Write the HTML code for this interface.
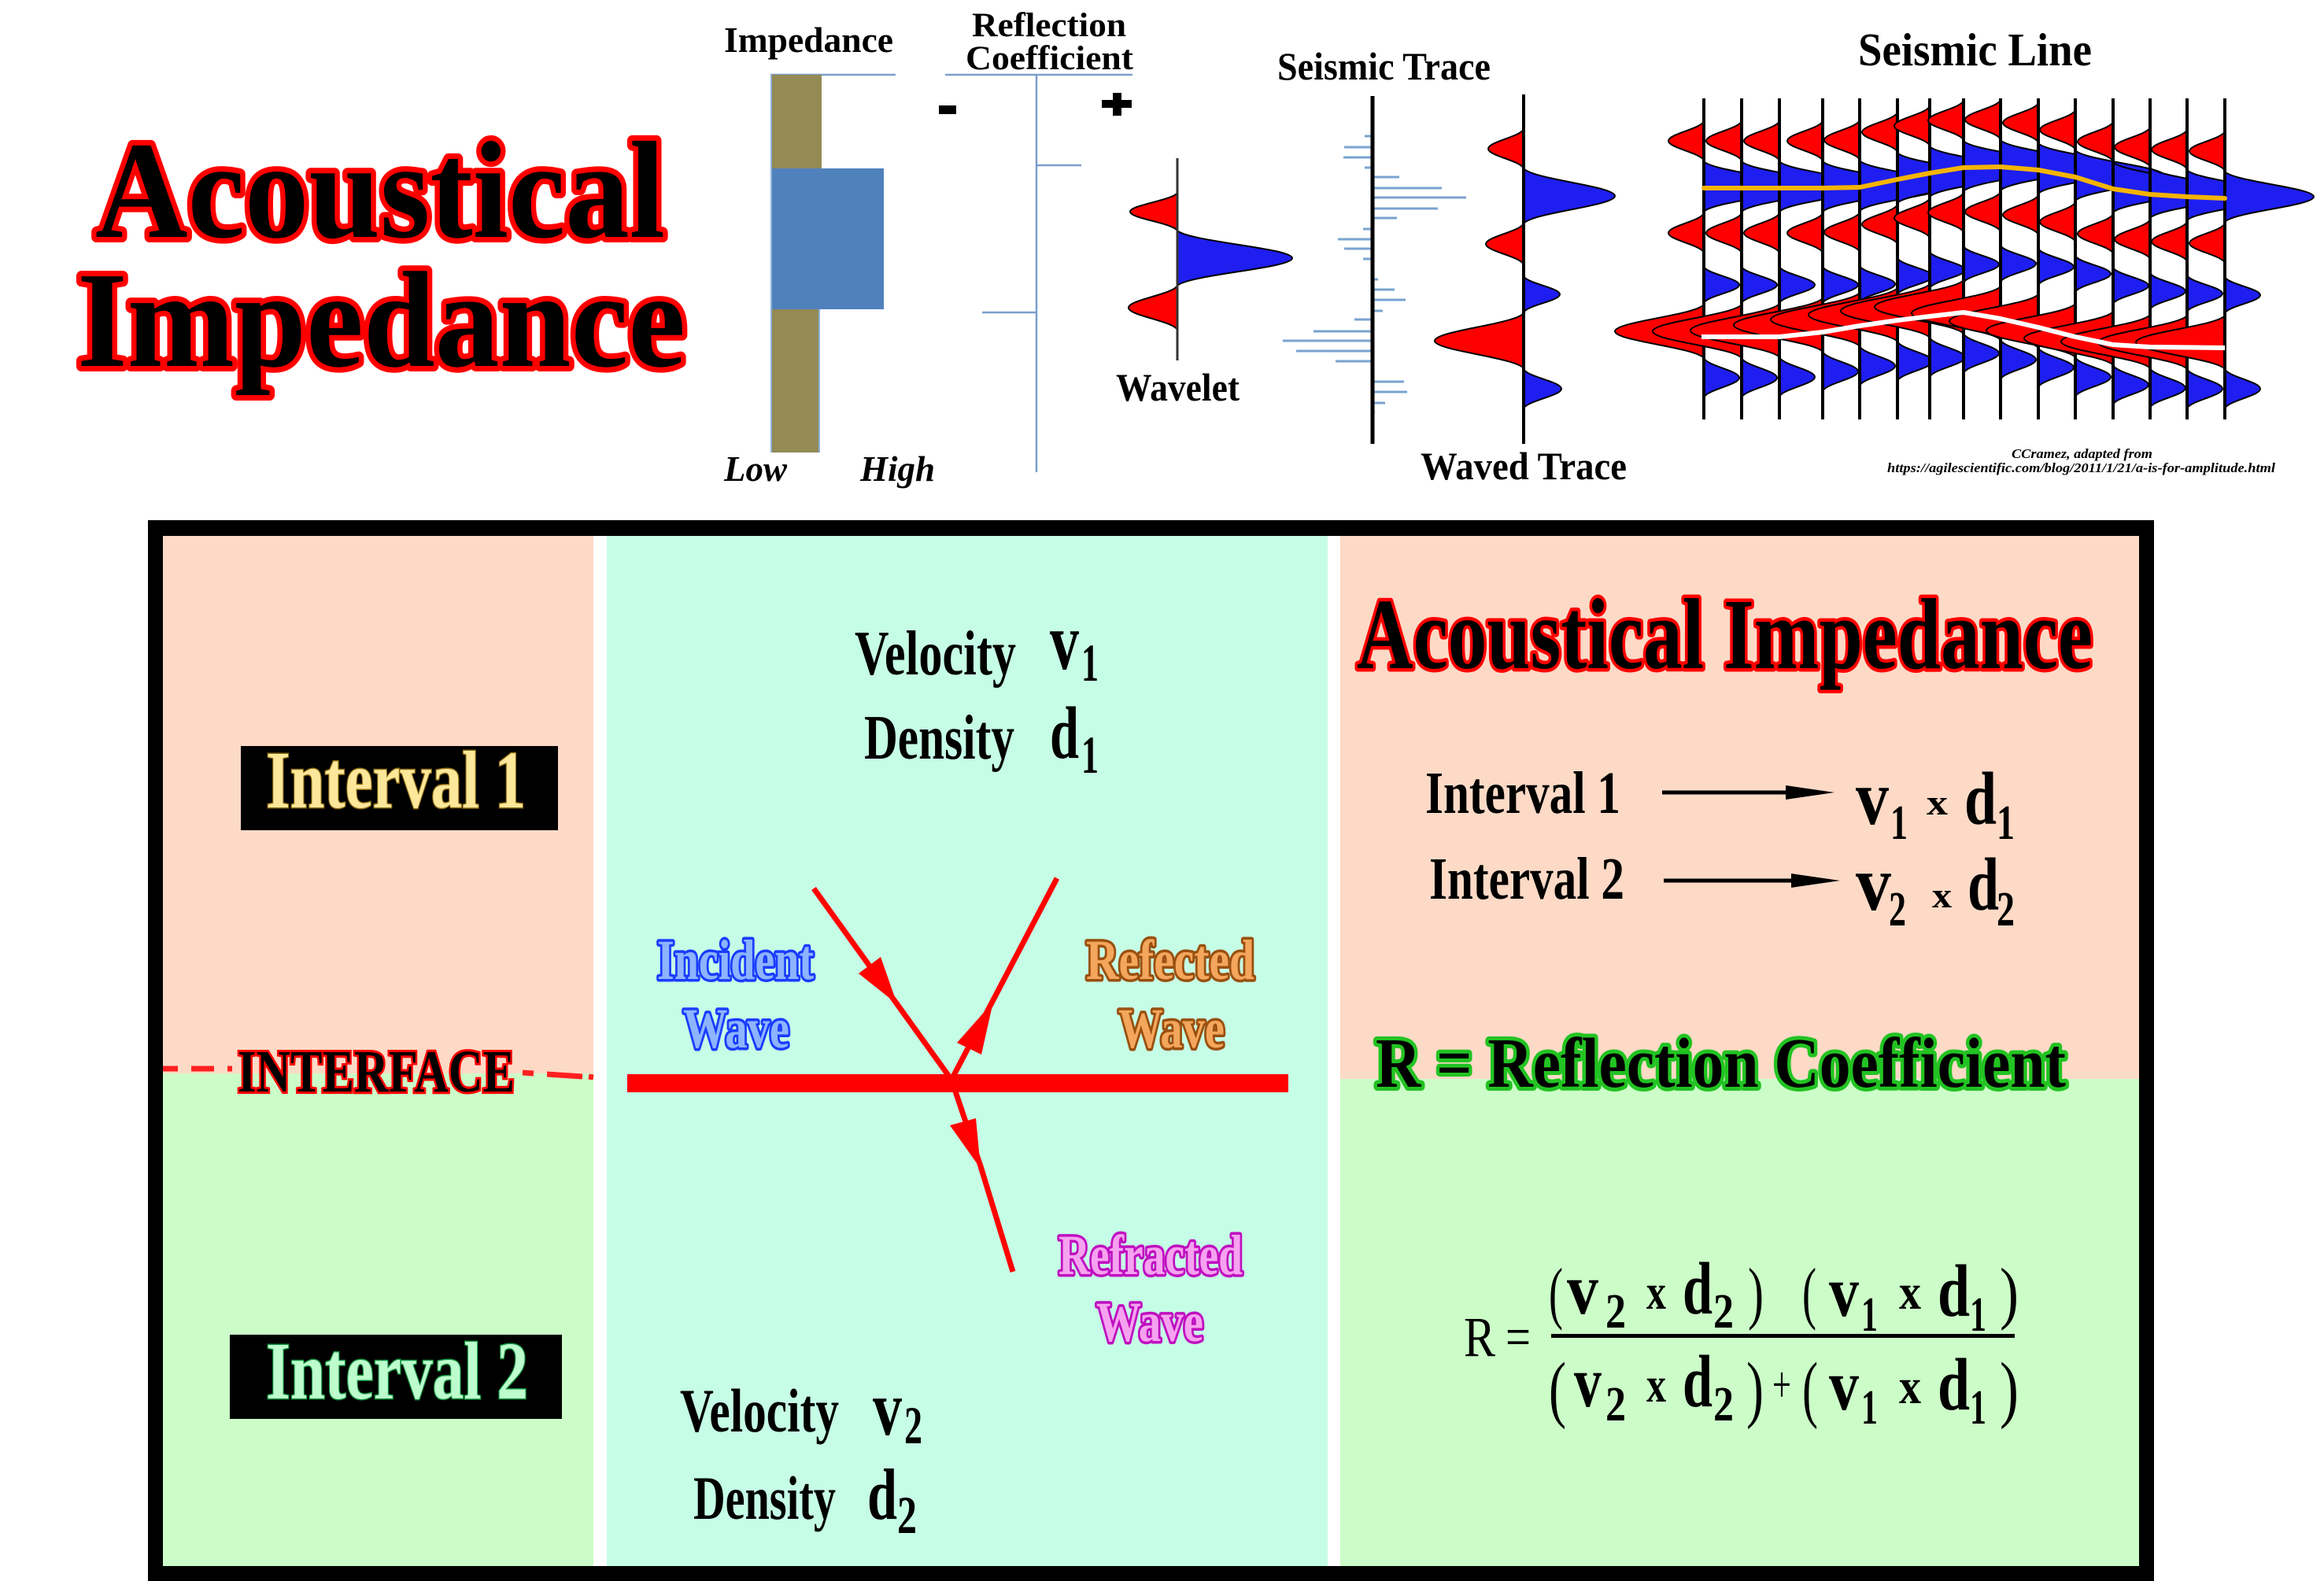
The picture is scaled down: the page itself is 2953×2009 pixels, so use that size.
<!DOCTYPE html>
<html><head><meta charset="utf-8"><style>
html,body{margin:0;padding:0;background:#fff;}
svg{display:block;}
text{font-family:"Liberation Serif",serif;font-weight:bold;}
.r{fill:#ff0000}.b{fill:#1e1ef0}
</style></head><body>
<svg xmlns="http://www.w3.org/2000/svg" xmlns:xlink="http://www.w3.org/1999/xlink" width="2953" height="2009" viewBox="0 0 2953 2009">
<defs>
<path id="lb" d="M0,-1 C0.1,-0.6 1,-0.36 1,0 C1,0.36 0.1,0.6 0,1 Z" vector-effect="non-scaling-stroke"/>
</defs>
<rect width="2953" height="2009" fill="#fff"/>

<!-- Top-left title -->
<g fill="#000" stroke="#ff0000" stroke-width="14" paint-order="stroke" stroke-linejoin="round">
<text x="121" y="301" font-size="176" textLength="724" lengthAdjust="spacingAndGlyphs">Acoustical</text>
<text x="98" y="465" font-size="174" textLength="773" lengthAdjust="spacingAndGlyphs">Impedance</text>
</g>

<!-- Impedance column -->
<text x="920" y="66" font-size="46" textLength="215" lengthAdjust="spacingAndGlyphs">Impedance</text>
<line x1="979" y1="95" x2="1138" y2="95" stroke="#7b9fcc" stroke-width="2.5"/>
<rect x="979" y="95" width="65" height="119" fill="#948a54"/>
<rect x="979" y="393" width="63" height="182" fill="#948a54"/>
<rect x="979" y="214" width="144" height="179" fill="#4f81bd"/>
<line x1="980" y1="95" x2="980" y2="575" stroke="#8fb0d8" stroke-width="2"/>
<line x1="1041" y1="393" x2="1041" y2="575" stroke="#8fb0d8" stroke-width="2"/>
<text x="920" y="611" font-size="46" font-style="italic" textLength="80" lengthAdjust="spacingAndGlyphs">Low</text>
<text x="1093" y="611" font-size="46" font-style="italic" textLength="95" lengthAdjust="spacingAndGlyphs">High</text>

<!-- Reflection coefficient -->
<text x="1235" y="46" font-size="43" textLength="196" lengthAdjust="spacingAndGlyphs">Reflection</text>
<text x="1227" y="88" font-size="43" textLength="213" lengthAdjust="spacingAndGlyphs">Coefficient</text>
<g stroke="#7b9fcc" stroke-width="2.5">
<line x1="1201" y1="95" x2="1439" y2="95"/>
<line x1="1317" y1="95" x2="1317" y2="600"/>
<line x1="1317" y1="210" x2="1374" y2="210"/>
<line x1="1248" y1="397" x2="1317" y2="397"/>
</g>
<rect x="1193" y="134" width="22" height="11" fill="#000"/>
<rect x="1400" y="127" width="38" height="10" fill="#000"/>
<rect x="1414" y="118" width="11" height="29" fill="#000"/>

<!-- Wavelet -->
<g stroke="#000" stroke-width="2">
<use href="#lb" class="r" transform="translate(1496,269) scale(-60,24)"/>
<use href="#lb" class="b" transform="translate(1496,328) scale(146,35)"/>
<use href="#lb" class="r" transform="translate(1496,391) scale(-62,28)"/>
</g>
<line x1="1496" y1="201" x2="1496" y2="458" stroke="#333" stroke-width="3"/>
<text x="1418" y="509" font-size="50" textLength="157" lengthAdjust="spacingAndGlyphs">Wavelet</text>

<!-- Seismic trace (reflectivity) -->
<text x="1623" y="101" font-size="50" textLength="271" lengthAdjust="spacingAndGlyphs">Seismic Trace</text>
<g stroke="#7aa3d0" stroke-width="3">
<line x1="1734" y1="173" x2="1744" y2="173"/>
<line x1="1708" y1="187" x2="1744" y2="187"/>
<line x1="1707" y1="200" x2="1744" y2="200"/>
<line x1="1734" y1="213" x2="1744" y2="213"/>
<line x1="1744" y1="225" x2="1778" y2="225"/>
<line x1="1744" y1="239" x2="1832" y2="239"/>
<line x1="1744" y1="251" x2="1863" y2="251"/>
<line x1="1744" y1="265" x2="1827" y2="265"/>
<line x1="1744" y1="277" x2="1775" y2="277"/>
<line x1="1732" y1="291" x2="1744" y2="291"/>
<line x1="1700" y1="304" x2="1744" y2="304"/>
<line x1="1708" y1="316" x2="1744" y2="316"/>
<line x1="1732" y1="329" x2="1744" y2="329"/>
<line x1="1744" y1="355" x2="1751" y2="355"/>
<line x1="1744" y1="368" x2="1772" y2="368"/>
<line x1="1744" y1="381" x2="1786" y2="381"/>
<line x1="1744" y1="395" x2="1757" y2="395"/>
<line x1="1721" y1="406" x2="1744" y2="406"/>
<line x1="1669" y1="421" x2="1744" y2="421"/>
<line x1="1630" y1="433" x2="1744" y2="433"/>
<line x1="1647" y1="446" x2="1744" y2="446"/>
<line x1="1697" y1="459" x2="1744" y2="459"/>
<line x1="1744" y1="485" x2="1784" y2="485"/>
<line x1="1744" y1="498" x2="1788" y2="498"/>
<line x1="1744" y1="512" x2="1760" y2="512"/>
<line x1="1744" y1="524" x2="1747" y2="524"/>
</g>
<line x1="1744" y1="122" x2="1744" y2="564" stroke="#000" stroke-width="5"/>

<!-- Waved trace -->
<g stroke="#000" stroke-width="2">
<use href="#lb" class="r" transform="translate(1936,189) scale(-45,25)"/>
<use href="#lb" class="b" transform="translate(1936,249) scale(116,35)"/>
<use href="#lb" class="r" transform="translate(1936,310) scale(-48,26)"/>
<use href="#lb" class="b" transform="translate(1936,374) scale(46,23)"/>
<use href="#lb" class="r" transform="translate(1936,433) scale(-113,35)"/>
<use href="#lb" class="b" transform="translate(1936,494) scale(48,25)"/>
</g>
<line x1="1936" y1="120" x2="1936" y2="564" stroke="#000" stroke-width="4"/>
<text x="1805" y="609" font-size="50" textLength="262" lengthAdjust="spacingAndGlyphs">Waved Trace</text>

<!-- Seismic line -->
<text x="2361" y="83" font-size="59" textLength="297" lengthAdjust="spacingAndGlyphs">Seismic Line</text>
<g stroke="#000" stroke-width="2">
<g><use href="#lb" class="r" transform="translate(2165,179) scale(-45,25)"/><use href="#lb" class="b" transform="translate(2165,237) scale(113,32)"/><use href="#lb" class="r" transform="translate(2165,296) scale(-45,25)"/><use href="#lb" class="b" transform="translate(2165,362) scale(45,23)"/><use href="#lb" class="r" transform="translate(2165,421) scale(-113,34)"/><use href="#lb" class="b" transform="translate(2165,480) scale(45,25)"/><line x1="2165" y1="125" x2="2165" y2="533" stroke-width="4"/></g>
<g><use href="#lb" class="r" transform="translate(2213,179) scale(-45,25)"/><use href="#lb" class="b" transform="translate(2213,237) scale(113,32)"/><use href="#lb" class="r" transform="translate(2213,296) scale(-45,25)"/><use href="#lb" class="b" transform="translate(2213,362) scale(45,23)"/><use href="#lb" class="r" transform="translate(2213,421) scale(-113,34)"/><use href="#lb" class="b" transform="translate(2213,480) scale(45,25)"/><line x1="2213" y1="125" x2="2213" y2="533" stroke-width="4"/></g>
<g><use href="#lb" class="r" transform="translate(2261,179) scale(-45,25)"/><use href="#lb" class="b" transform="translate(2261,237) scale(113,32)"/><use href="#lb" class="r" transform="translate(2261,296) scale(-45,25)"/><use href="#lb" class="b" transform="translate(2261,362) scale(45,23)"/><use href="#lb" class="r" transform="translate(2261,420) scale(-113,34)"/><use href="#lb" class="b" transform="translate(2261,479) scale(45,25)"/><line x1="2261" y1="125" x2="2261" y2="533" stroke-width="4"/></g>
<g><use href="#lb" class="r" transform="translate(2316,179) scale(-45,25)"/><use href="#lb" class="b" transform="translate(2316,237) scale(113,32)"/><use href="#lb" class="r" transform="translate(2316,296) scale(-45,25)"/><use href="#lb" class="b" transform="translate(2316,362) scale(45,23)"/><use href="#lb" class="r" transform="translate(2316,413) scale(-113,34)"/><use href="#lb" class="b" transform="translate(2316,472) scale(45,25)"/><line x1="2316" y1="125" x2="2316" y2="533" stroke-width="4"/></g>
<g><use href="#lb" class="r" transform="translate(2363,178) scale(-45,25)"/><use href="#lb" class="b" transform="translate(2363,236) scale(113,32)"/><use href="#lb" class="r" transform="translate(2363,295) scale(-45,25)"/><use href="#lb" class="b" transform="translate(2363,361) scale(45,23)"/><use href="#lb" class="r" transform="translate(2363,406) scale(-113,34)"/><use href="#lb" class="b" transform="translate(2363,465) scale(45,25)"/><line x1="2363" y1="125" x2="2363" y2="533" stroke-width="4"/></g>
<g><use href="#lb" class="r" transform="translate(2411,168) scale(-45,25)"/><use href="#lb" class="b" transform="translate(2411,226) scale(113,32)"/><use href="#lb" class="r" transform="translate(2411,285) scale(-45,25)"/><use href="#lb" class="b" transform="translate(2411,351) scale(45,23)"/><use href="#lb" class="r" transform="translate(2411,400) scale(-113,34)"/><use href="#lb" class="b" transform="translate(2411,459) scale(45,25)"/><line x1="2411" y1="125" x2="2411" y2="533" stroke-width="4"/></g>
<g><use href="#lb" class="r" transform="translate(2452,160) scale(-45,25)"/><use href="#lb" class="b" transform="translate(2452,218) scale(113,32)"/><use href="#lb" class="r" transform="translate(2452,277) scale(-45,25)"/><use href="#lb" class="b" transform="translate(2452,343) scale(45,23)"/><use href="#lb" class="r" transform="translate(2452,395) scale(-113,34)"/><use href="#lb" class="b" transform="translate(2452,454) scale(45,25)"/><line x1="2452" y1="125" x2="2452" y2="533" stroke-width="4"/></g>
<g><use href="#lb" class="r" transform="translate(2495,153) scale(-45,25)"/><use href="#lb" class="b" transform="translate(2495,211) scale(113,32)"/><use href="#lb" class="r" transform="translate(2495,270) scale(-45,25)"/><use href="#lb" class="b" transform="translate(2495,336) scale(45,23)"/><use href="#lb" class="r" transform="translate(2495,390) scale(-113,34)"/><use href="#lb" class="b" transform="translate(2495,449) scale(45,25)"/><line x1="2495" y1="125" x2="2495" y2="533" stroke-width="4"/></g>
<g><use href="#lb" class="r" transform="translate(2542,152) scale(-45,25)"/><use href="#lb" class="b" transform="translate(2542,210) scale(113,32)"/><use href="#lb" class="r" transform="translate(2542,269) scale(-45,25)"/><use href="#lb" class="b" transform="translate(2542,335) scale(45,23)"/><use href="#lb" class="r" transform="translate(2542,398) scale(-113,34)"/><use href="#lb" class="b" transform="translate(2542,457) scale(45,25)"/><line x1="2542" y1="125" x2="2542" y2="533" stroke-width="4"/></g>
<g><use href="#lb" class="r" transform="translate(2590,156) scale(-45,25)"/><use href="#lb" class="b" transform="translate(2590,214) scale(113,32)"/><use href="#lb" class="r" transform="translate(2590,273) scale(-45,25)"/><use href="#lb" class="b" transform="translate(2590,339) scale(45,23)"/><use href="#lb" class="r" transform="translate(2590,408) scale(-113,34)"/><use href="#lb" class="b" transform="translate(2590,467) scale(45,25)"/><line x1="2590" y1="125" x2="2590" y2="533" stroke-width="4"/></g>
<g><use href="#lb" class="r" transform="translate(2637,165) scale(-45,25)"/><use href="#lb" class="b" transform="translate(2637,223) scale(113,32)"/><use href="#lb" class="r" transform="translate(2637,282) scale(-45,25)"/><use href="#lb" class="b" transform="translate(2637,348) scale(45,23)"/><use href="#lb" class="r" transform="translate(2637,420) scale(-113,34)"/><use href="#lb" class="b" transform="translate(2637,479) scale(45,25)"/><line x1="2637" y1="125" x2="2637" y2="533" stroke-width="4"/></g>
<g><use href="#lb" class="r" transform="translate(2685,180) scale(-45,25)"/><use href="#lb" class="b" transform="translate(2685,238) scale(113,32)"/><use href="#lb" class="r" transform="translate(2685,297) scale(-45,25)"/><use href="#lb" class="b" transform="translate(2685,363) scale(45,23)"/><use href="#lb" class="r" transform="translate(2685,430) scale(-113,34)"/><use href="#lb" class="b" transform="translate(2685,489) scale(45,25)"/><line x1="2685" y1="125" x2="2685" y2="533" stroke-width="4"/></g>
<g><use href="#lb" class="r" transform="translate(2732,187) scale(-45,25)"/><use href="#lb" class="b" transform="translate(2732,245) scale(113,32)"/><use href="#lb" class="r" transform="translate(2732,304) scale(-45,25)"/><use href="#lb" class="b" transform="translate(2732,370) scale(45,23)"/><use href="#lb" class="r" transform="translate(2732,434) scale(-113,34)"/><use href="#lb" class="b" transform="translate(2732,493) scale(45,25)"/><line x1="2732" y1="125" x2="2732" y2="533" stroke-width="4"/></g>
<g><use href="#lb" class="r" transform="translate(2779,190) scale(-45,25)"/><use href="#lb" class="b" transform="translate(2779,248) scale(113,32)"/><use href="#lb" class="r" transform="translate(2779,307) scale(-45,25)"/><use href="#lb" class="b" transform="translate(2779,373) scale(45,23)"/><use href="#lb" class="r" transform="translate(2779,435) scale(-113,34)"/><use href="#lb" class="b" transform="translate(2779,494) scale(45,25)"/><line x1="2779" y1="125" x2="2779" y2="533" stroke-width="4"/></g>
<g><use href="#lb" class="r" transform="translate(2827,192) scale(-45,25)"/><use href="#lb" class="b" transform="translate(2827,250) scale(113,32)"/><use href="#lb" class="r" transform="translate(2827,309) scale(-45,25)"/><use href="#lb" class="b" transform="translate(2827,375) scale(45,23)"/><use href="#lb" class="r" transform="translate(2827,435) scale(-113,34)"/><use href="#lb" class="b" transform="translate(2827,494) scale(45,25)"/><line x1="2827" y1="125" x2="2827" y2="533" stroke-width="4"/></g>
</g>
<polyline points="2165,239 2316,239 2363,238 2411,228 2452,220 2495,213 2542,212 2590,216 2637,225 2685,240 2732,247 2779,250 2827,252" fill="none" stroke="#f5b400" stroke-width="6" stroke-linejoin="round" stroke-linecap="round"/>
<polyline points="2162,428 2261,428 2316,422 2363,414 2411,407 2452,402 2495,397 2542,405 2590,416 2637,428 2685,438 2732,441 2827,442" fill="none" stroke="#ffffff" stroke-width="6" stroke-linejoin="round"/>
<text x="2556" y="582" font-size="17" font-style="italic" textLength="179" lengthAdjust="spacingAndGlyphs">CCramez, adapted from</text>
<text x="2398" y="600" font-size="17" font-style="italic" textLength="493" lengthAdjust="spacingAndGlyphs">https://agilescientific.com/blog/2011/1/21/a-is-for-amplitude.html</text>

<!-- Bottom frame -->
<rect x="188" y="661" width="2549" height="1348" fill="#000"/>
<rect x="207" y="681" width="547" height="683" fill="#fddac6"/>
<rect x="207" y="1364" width="547" height="626" fill="#ccfdc8"/>
<rect x="754" y="681" width="17" height="1309" fill="#fff"/>
<rect x="771" y="681" width="916" height="1309" fill="#c6fde6"/>
<rect x="1687" y="681" width="16" height="1309" fill="#fff"/>
<rect x="1703" y="681" width="1015" height="690" fill="#fddac6"/>
<rect x="1703" y="1371" width="1015" height="619" fill="#ccfdc8"/>

<!-- Left panel -->
<rect x="306" y="948" width="403" height="107" fill="#000"/>
<text x="338" y="1026" font-size="104" textLength="330" lengthAdjust="spacingAndGlyphs" fill="#fde79a" stroke="#8a6a10" stroke-width="3" paint-order="stroke">Interval 1</text>
<rect x="292" y="1696" width="422" height="107" fill="#000"/>
<text x="338" y="1777" font-size="104" textLength="333" lengthAdjust="spacingAndGlyphs" fill="#bdfccc" stroke="#109040" stroke-width="3" paint-order="stroke">Interval 2</text>
<g stroke="#ff2020" stroke-width="7">
<line x1="207" y1="1358" x2="226" y2="1358"/>
<line x1="243" y1="1358" x2="272" y2="1358"/>
<line x1="289" y1="1358" x2="295" y2="1358"/>
<line x1="664" y1="1363" x2="678" y2="1364"/>
<line x1="695" y1="1365" x2="740" y2="1368"/>
<line x1="748" y1="1368" x2="754" y2="1369"/>
</g>
<text x="302" y="1387" font-size="76" textLength="352" lengthAdjust="spacingAndGlyphs" fill="#000" stroke="#ff0000" stroke-width="6" paint-order="stroke">INTERFACE</text>

<!-- Middle panel -->
<text x="1086" y="857" font-size="80" textLength="205" lengthAdjust="spacingAndGlyphs">Velocity</text>
<text x="1334" y="850" font-size="104" textLength="37" lengthAdjust="spacingAndGlyphs">v</text>
<text x="1374" y="865" font-size="68" textLength="22" lengthAdjust="spacingAndGlyphs">1</text>
<text x="1098" y="964" font-size="80" textLength="191" lengthAdjust="spacingAndGlyphs">Density</text>
<text x="1334" y="963" font-size="94" textLength="37" lengthAdjust="spacingAndGlyphs">d</text>
<text x="1374" y="982" font-size="68" textLength="22" lengthAdjust="spacingAndGlyphs">1</text>

<text x="864" y="1819" font-size="78" textLength="202" lengthAdjust="spacingAndGlyphs">Velocity</text>
<text x="1109" y="1823" font-size="100" textLength="37" lengthAdjust="spacingAndGlyphs">v</text>
<text x="1149" y="1834" font-size="68" textLength="23" lengthAdjust="spacingAndGlyphs">2</text>
<text x="881" y="1930" font-size="78" textLength="181" lengthAdjust="spacingAndGlyphs">Density</text>
<text x="1102" y="1930" font-size="92" textLength="38" lengthAdjust="spacingAndGlyphs">d</text>
<text x="1140" y="1948" font-size="68" textLength="25" lengthAdjust="spacingAndGlyphs">2</text>

<rect x="797" y="1365" width="840" height="23" fill="#ff0000"/>
<g stroke="#ff0000" stroke-width="7" fill="none" stroke-linecap="butt">
<line x1="1034" y1="1129" x2="1209" y2="1372"/>
<line x1="1209" y1="1372" x2="1343" y2="1116"/>
<polyline points="1209,1372 1246,1482 1287,1616"/>
</g>
<g fill="#ff0000">
<polygon points="1140,1276 1091,1237 1119,1216"/>
<polygon points="1262,1273 1247,1340 1216,1325"/>
<polygon points="1246,1485 1207,1430 1240,1421"/>
</g>
<g stroke-width="7" paint-order="stroke" stroke-linejoin="round">
<text x="835" y="1244" font-size="72" textLength="199" lengthAdjust="spacingAndGlyphs" fill="#8db4ff" stroke="#1a3cff">Incident</text>
<text x="868" y="1331" font-size="72" textLength="135" lengthAdjust="spacingAndGlyphs" fill="#8db4ff" stroke="#1a3cff">Wave</text>
<text x="1380" y="1244" font-size="72" textLength="214" lengthAdjust="spacingAndGlyphs" fill="#f4a65c" stroke="#9a5010">Refected</text>
<text x="1421" y="1331" font-size="72" textLength="135" lengthAdjust="spacingAndGlyphs" fill="#f4a65c" stroke="#9a5010">Wave</text>
<text x="1345" y="1619" font-size="72" textLength="234" lengthAdjust="spacingAndGlyphs" fill="#f6a2f0" stroke="#c010c0">Refracted</text>
<text x="1393" y="1704" font-size="72" textLength="136" lengthAdjust="spacingAndGlyphs" fill="#f6a2f0" stroke="#c010c0">Wave</text>
</g>

<!-- Right panel -->
<text x="1724" y="849" font-size="128" textLength="935" lengthAdjust="spacingAndGlyphs" fill="#000" stroke="#ff0000" stroke-width="9" paint-order="stroke" stroke-linejoin="round">Acoustical Impedance</text>

<text x="1811" y="1033" font-size="76" textLength="248" lengthAdjust="spacingAndGlyphs">Interval 1</text>
<text x="1816" y="1142" font-size="76" textLength="248" lengthAdjust="spacingAndGlyphs">Interval 2</text>
<line x1="2112" y1="1007" x2="2275" y2="1007" stroke="#000" stroke-width="5"/>
<polygon points="2269,998 2331,1007 2269,1016" fill="#000"/>
<line x1="2114" y1="1119" x2="2280" y2="1119" stroke="#000" stroke-width="5"/>
<polygon points="2276,1110 2338,1119 2276,1128" fill="#000"/>

<text x="2358" y="1047" font-size="100" textLength="42" lengthAdjust="spacingAndGlyphs">v</text>
<text x="2402" y="1066" font-size="62" textLength="22" lengthAdjust="spacingAndGlyphs">1</text>
<text x="2448" y="1035" font-size="46" textLength="27" lengthAdjust="spacingAndGlyphs">x</text>
<text x="2496" y="1047" font-size="95" textLength="41" lengthAdjust="spacingAndGlyphs">d</text>
<text x="2537" y="1066" font-size="62" textLength="23" lengthAdjust="spacingAndGlyphs">1</text>

<text x="2358" y="1156" font-size="100" textLength="45" lengthAdjust="spacingAndGlyphs">v</text>
<text x="2400" y="1176" font-size="62" textLength="22" lengthAdjust="spacingAndGlyphs">2</text>
<text x="2455" y="1153" font-size="46" textLength="25" lengthAdjust="spacingAndGlyphs">x</text>
<text x="2500" y="1156" font-size="95" textLength="40" lengthAdjust="spacingAndGlyphs">d</text>
<text x="2537" y="1176" font-size="62" textLength="23" lengthAdjust="spacingAndGlyphs">2</text>

<text x="1748" y="1381" font-size="90" textLength="877" lengthAdjust="spacingAndGlyphs" fill="#000" stroke="#22c322" stroke-width="10" paint-order="stroke" stroke-linejoin="round">R = Reflection Coefficient</text>

<!-- Formula -->
<g font-weight="normal">
<text x="1860" y="1723" font-size="72" textLength="40" lengthAdjust="spacingAndGlyphs" style="font-weight:normal">R</text>
<text x="1913" y="1723" font-size="72" textLength="32" lengthAdjust="spacingAndGlyphs" style="font-weight:normal">=</text>
</g>
<rect x="1971" y="1695" width="589" height="5" fill="#000"/>
<g>
<text x="1968" y="1672" font-size="88" textLength="18" lengthAdjust="spacingAndGlyphs" style="font-weight:normal">(</text>
<text x="1991" y="1669" font-size="92" textLength="40" lengthAdjust="spacingAndGlyphs">v</text>
<text x="2040" y="1687" font-size="62" textLength="26" lengthAdjust="spacingAndGlyphs">2</text>
<text x="2092" y="1663" font-size="64" textLength="25" lengthAdjust="spacingAndGlyphs">x</text>
<text x="2138" y="1669" font-size="94" textLength="38" lengthAdjust="spacingAndGlyphs">d</text>
<text x="2177" y="1687" font-size="62" textLength="26" lengthAdjust="spacingAndGlyphs">2</text>
<text x="2221" y="1672" font-size="88" textLength="20" lengthAdjust="spacingAndGlyphs" style="font-weight:normal">)</text>
<text x="2290" y="1672" font-size="88" textLength="18" lengthAdjust="spacingAndGlyphs" style="font-weight:normal">(</text>
<text x="2324" y="1672" font-size="92" textLength="38" lengthAdjust="spacingAndGlyphs">v</text>
<text x="2365" y="1691" font-size="62" textLength="21" lengthAdjust="spacingAndGlyphs">1</text>
<text x="2413" y="1663" font-size="64" textLength="28" lengthAdjust="spacingAndGlyphs">x</text>
<text x="2462" y="1672" font-size="94" textLength="41" lengthAdjust="spacingAndGlyphs">d</text>
<text x="2503" y="1691" font-size="62" textLength="21" lengthAdjust="spacingAndGlyphs">1</text>
<text x="2541" y="1672" font-size="88" textLength="24" lengthAdjust="spacingAndGlyphs" style="font-weight:normal">)</text>

<text x="1968" y="1796" font-size="94" textLength="22" lengthAdjust="spacingAndGlyphs" style="font-weight:normal">(</text>
<text x="2000" y="1787" font-size="92" textLength="35" lengthAdjust="spacingAndGlyphs">v</text>
<text x="2040" y="1805" font-size="62" textLength="26" lengthAdjust="spacingAndGlyphs">2</text>
<text x="2092" y="1781" font-size="64" textLength="25" lengthAdjust="spacingAndGlyphs">x</text>
<text x="2138" y="1787" font-size="94" textLength="38" lengthAdjust="spacingAndGlyphs">d</text>
<text x="2177" y="1805" font-size="62" textLength="26" lengthAdjust="spacingAndGlyphs">2</text>
<text x="2219" y="1796" font-size="94" textLength="22" lengthAdjust="spacingAndGlyphs" style="font-weight:normal">)</text>
<text x="2252" y="1781" font-size="66" textLength="24" lengthAdjust="spacingAndGlyphs" style="font-weight:normal">+</text>
<text x="2290" y="1796" font-size="94" textLength="20" lengthAdjust="spacingAndGlyphs" style="font-weight:normal">(</text>
<text x="2324" y="1791" font-size="92" textLength="38" lengthAdjust="spacingAndGlyphs">v</text>
<text x="2365" y="1809" font-size="62" textLength="21" lengthAdjust="spacingAndGlyphs">1</text>
<text x="2413" y="1783" font-size="64" textLength="28" lengthAdjust="spacingAndGlyphs">x</text>
<text x="2462" y="1791" font-size="94" textLength="41" lengthAdjust="spacingAndGlyphs">d</text>
<text x="2503" y="1809" font-size="62" textLength="21" lengthAdjust="spacingAndGlyphs">1</text>
<text x="2541" y="1796" font-size="94" textLength="24" lengthAdjust="spacingAndGlyphs" style="font-weight:normal">)</text>
</g>
</svg>
</body></html>
